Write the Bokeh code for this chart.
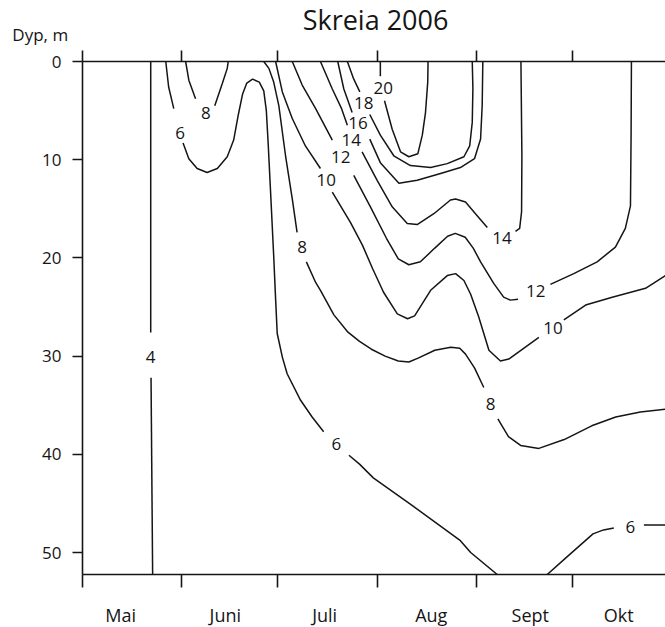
from bokeh.plotting import figure
from bokeh.layouts import column
from bokeh.models import Range1d, LinearAxis, FixedTicker, Grid
from bokeh.core.properties import value
from bokeh.embed import file_html
from bokeh.resources import INLINE

FONT = "Open Sans"
INK = "#151515"

# ---- axes data (x = days since 1 May, y = depth in m) ----
month_starts = [0, 31, 61, 92, 123, 153]
month_label_day = [11.9, 44.6, 75.6, 108.9, 139.8, 167.4]
month_names = ["Mai", "Juni", "Juli", "Aug", "Sept", "Okt"]
depth_ticks = [0, 10, 20, 30, 40, 50]
title_text = "Skreia 2006"
depth_label = "Dyp, m"

# ---- isotherms (segments between labels) ----
t4_a_day = [21.3, 21.3]
t4_a_dep = [0, 27.6]
t4_b_day = [21.4, 21.9]
t4_b_dep = [32.2, 52.24]

t6_a_day = [26.0, 26.9, 28.5]
t6_a_dep = [0, 2.6, 4.8]
t6_b_day = [31.4, 33.2, 35.8, 38.9, 42.1, 45.2, 47.2, 48.6, 50.0, 51.3, 53.1,
            55.2, 56.6, 57.4, 58.0, 58.7, 59.7, 60.3, 60.8, 62.4, 63.9, 68.1,
            71.7, 75.3]
t6_b_dep = [8.3, 9.9, 10.9, 11.3, 10.9, 9.7, 8.0, 5.5, 3.3, 2.2, 1.8,
            2.1, 3.0, 5.0, 8.5, 13.1, 19.8, 24.2, 27.7, 30.1, 31.8, 34.5,
            36.2, 37.7]
t6_c_day = [83.2, 86.5, 90.8, 102.9, 118.0, 121.2, 129.5]
t6_c_dep = [40.1, 41.0, 42.4, 45.2, 48.8, 50.0, 52.24]
t6_d_day = [145.1, 151.1, 159.4, 162.7, 165.9]
t6_d_dep = [52.24, 50.5, 48.1, 47.7, 47.5]
t6_e_day = [175.3, 182.0]
t6_e_dep = [47.2, 47.2]

t8s_a_day = [32.2, 33.2, 35.3]
t8s_a_dep = [0, 1.9, 3.8]
t8s_b_day = [41.3, 43.6, 45.2, 45.5]
t8s_b_dep = [4.5, 2.3, 0.7, 0]

t8_a_day = [56.6, 58.2, 59.7, 61.3, 63.4, 65.5, 67.0]
t8_a_dep = [0, 0.7, 2.1, 4.5, 9.6, 14.0, 17.4]
t8_b_day = [69.9, 72.8, 74.3, 78.5, 82.7, 86.5, 90.2, 94.5, 98.6, 101.9,
            104.8, 110.0, 115.0, 117.8, 119.6, 122.4, 125.3]
t8_b_dep = [20.4, 22.5, 23.3, 25.8, 27.5, 28.5, 29.3, 30.0, 30.5, 30.6,
            30.2, 29.4, 29.1, 29.2, 29.8, 31.2, 33.2]
t8_c_day = [129.7, 133.0, 136.8, 142.5, 150.4, 159.0, 166.5, 174.2, 182.0]
t8_c_dep = [36.4, 38.2, 39.1, 39.4, 38.5, 37.1, 36.2, 35.7, 35.4]

t10_a_day = [60.3, 62.4, 65.5, 69.6, 74.3]
t10_a_dep = [0, 3.1, 5.8, 8.6, 10.9]
t10_b_day = [78.0, 83.7, 87.4, 90.6, 94.0, 98.3, 101.5, 103.7, 108.7, 113.9,
             116.5, 119.1, 121.2, 123.7, 126.9, 130.5, 133.1, 142.5]
t10_b_dep = [13.3, 16.4, 18.7, 21.1, 23.5, 25.7, 26.2, 25.9, 23.3, 21.8,
             21.6, 22.3, 23.7, 26.0, 29.4, 30.5, 30.3, 28.1]
t10_c_day = [150.3, 157.1, 165.4, 175.8, 182.0]
t10_c_dep = [26.3, 24.8, 24.0, 23.1, 21.8]

t12_a_day = [65.5, 68.6, 72.8, 78.0]
t12_a_dep = [0, 2.4, 4.8, 8.0]
t12_b_day = [84.7, 89.9, 94.9, 98.6, 101.9, 105.5, 110.0, 114.0, 116.4,
             119.5, 122.0, 124.3, 128.4, 131.5, 133.6, 136.0]
t12_b_dep = [11.6, 14.8, 18.0, 20.1, 20.7, 20.4, 19.0, 17.8, 17.5,
             17.9, 19.0, 20.4, 22.6, 24.0, 24.3, 24.2]
t12_c_day = [146.1, 153.4, 160.7, 166.4, 169.5, 171.1, 171.3, 171.4]
t12_c_dep = [22.7, 21.6, 20.4, 18.9, 17.0, 14.7, 7.3, 0]

t14_a_day = [74.3, 78.0, 80.9, 82.7]
t14_a_dep = [0, 2.8, 4.8, 6.5]
t14_b_day = [87.3, 92.0, 96.7, 101.4, 104.5, 109.7, 114.9, 116.5, 119.6,
             122.7, 126.4]
t14_b_dep = [9.2, 12.1, 14.8, 16.5, 16.6, 15.5, 14.1, 14.0, 14.3,
             15.5, 16.9]
t14_c_day = [135.2, 136.5, 137.1, 137.2, 136.9]
t14_c_dep = [17.3, 17.0, 15.3, 9.6, 0]

t16_a_day = [79.7, 81.6, 84.2]
t16_a_dep = [0, 2.8, 5.2]
t16_b_day = [89.7, 93.0, 98.8, 104.5, 111.8, 118.0, 122.4, 124.3, 124.8, 125.0]
t16_b_dep = [7.9, 10.3, 12.4, 12.1, 11.4, 10.8, 9.9, 7.9, 4.5, 0]

t18_a_day = [82.7, 84.7, 86.6]
t18_a_dep = [0, 1.8, 3.1]
t18_b_day = [89.7, 93.0, 97.2, 102.4, 108.7, 113.9, 119.1, 120.9, 121.7,
             121.9, 121.7]
t18_b_dep = [5.4, 7.5, 9.6, 10.6, 10.8, 10.4, 9.7, 8.6, 6.2, 2.8, 0]

t20_a_day = [93.0, 93.0]
t20_a_dep = [0, 1.5]
t20_b_day = [94.3, 96.7, 99.3, 101.9, 104.7, 106.1, 107.1, 107.8, 107.9]
t20_b_dep = [4.0, 6.9, 9.2, 9.7, 9.4, 7.5, 5.2, 2.1, 0]

# ---- contour labels ----
label_day = [21.3, 30.5, 38.5, 79.3, 171.1, 68.6, 127.4, 76.1, 146.9,
             80.6, 141.5, 83.9, 131.0, 86.0, 87.8, 93.9]
label_dep = [30.1, 7.3, 5.2, 39.0, 47.4, 18.9, 34.9, 12.1, 27.1,
             9.7, 23.4, 8.0, 18.0, 6.3, 4.2, 2.7]
label_txt = ["4", "6", "8", "6", "6", "8", "8", "10", "10",
             "12", "12", "14", "14", "16", "18", "20"]

seg_days = [t4_a_day, t4_b_day, t6_a_day, t6_b_day, t6_c_day, t6_d_day, t6_e_day,
            t8s_a_day, t8s_b_day, t8_a_day, t8_b_day, t8_c_day,
            t10_a_day, t10_b_day, t10_c_day, t12_a_day, t12_b_day, t12_c_day,
            t14_a_day, t14_b_day, t14_c_day, t16_a_day, t16_b_day,
            t18_a_day, t18_b_day, t20_a_day, t20_b_day]
seg_deps = [t4_a_dep, t4_b_dep, t6_a_dep, t6_b_dep, t6_c_dep, t6_d_dep, t6_e_dep,
            t8s_a_dep, t8s_b_dep, t8_a_dep, t8_b_dep, t8_c_dep,
            t10_a_dep, t10_b_dep, t10_c_dep, t12_a_dep, t12_b_dep, t12_c_dep,
            t14_a_dep, t14_b_dep, t14_c_dep, t16_a_dep, t16_b_dep,
            t18_a_dep, t18_b_dep, t20_a_dep, t20_b_dep]

# scale: 3.2026 px per day, 9.82 px per metre; frame from x=82 to 665, y=61 to 574
X_END = 182.04
X_LEFT = -25.60          # day value at the page's left edge


def bare(fig):
    fig.outline_line_color = None
    fig.background_fill_color = "white"
    fig.border_fill_color = "white"
    for r in fig.center:
        if isinstance(r, Grid):
            r.visible = False
    return fig


# ---- header strip with title and depth label ----
head = bare(figure(width=665, height=45, x_range=Range1d(X_LEFT, X_END),
                   y_range=Range1d(-1.629, -6.212), output_backend="svg",
                   toolbar_location=None, x_axis_location=None,
                   y_axis_location=None, min_border=0, frame_align=False))
head.text(x=[91.5], y=[-4.28], text=[title_text], text_font=value(FONT),
          text_font_size=value("27px"), text_align="center",
          text_baseline="middle", text_color=INK)
head.text(x=[-21.9], y=[-2.70], text=[depth_label], text_font=value(FONT),
          text_font_size=value("17px"), text_align="left",
          text_baseline="middle", text_color=INK)

# ---- main plot ----
p = bare(figure(width=665, height=547,
                x_range=Range1d(0, X_END), y_range=Range1d(52.24, 0),
                output_backend="svg", toolbar_location=None,
                x_axis_location=None, y_axis_location=None,
                min_border_left=82, min_border_right=0,
                min_border_top=16, min_border_bottom=18, frame_align=False))


def style_axis(ax, tick_out):
    ax.axis_line_color = INK
    ax.axis_line_width = 1.6
    ax.major_tick_line_color = INK
    ax.major_tick_line_width = 1.6
    ax.major_tick_out = tick_out
    ax.major_tick_in = 0
    ax.minor_tick_out = 0
    ax.minor_tick_in = 0


left = LinearAxis(ticker=FixedTicker(ticks=depth_ticks, minor_ticks=[]))
style_axis(left, 10)
left.major_label_standoff = 11
left.major_label_text_font = FONT
left.major_label_text_font_size = "17px"
left.major_label_text_color = INK
p.add_layout(left, "left")

for side, tick_out in (("below", 13), ("above", 11)):
    ax = LinearAxis(ticker=FixedTicker(ticks=month_starts, minor_ticks=[]))
    style_axis(ax, tick_out)
    ax.major_label_standoff = 0
    ax.major_label_text_font_size = "0px"
    ax.major_label_overrides = {t: "" for t in month_starts}
    p.add_layout(ax, side)

p.multi_line(xs=seg_days, ys=seg_deps, line_color=INK, line_width=1.5)
p.text(x=label_day, y=label_dep, text=label_txt,
       text_font=value(FONT), text_font_size=value("17px"),
       text_align="center", text_baseline="middle", text_color=INK)

# ---- footer strip with month names ----
foot = bare(figure(width=665, height=35, x_range=Range1d(X_LEFT, X_END),
                   y_range=Range1d(57.64, 54.07), output_backend="svg",
                   toolbar_location=None, x_axis_location=None,
                   y_axis_location=None, min_border=0, frame_align=False))
foot.text(x=month_label_day, y=[56.35] * len(month_names), text=month_names,
          text_font=value(FONT), text_font_size=value("18px"),
          text_align="center", text_baseline="middle", text_color=INK)

layout = column(head, p, foot, spacing=0)
open("out.html", "w").write(file_html(layout, INLINE))
